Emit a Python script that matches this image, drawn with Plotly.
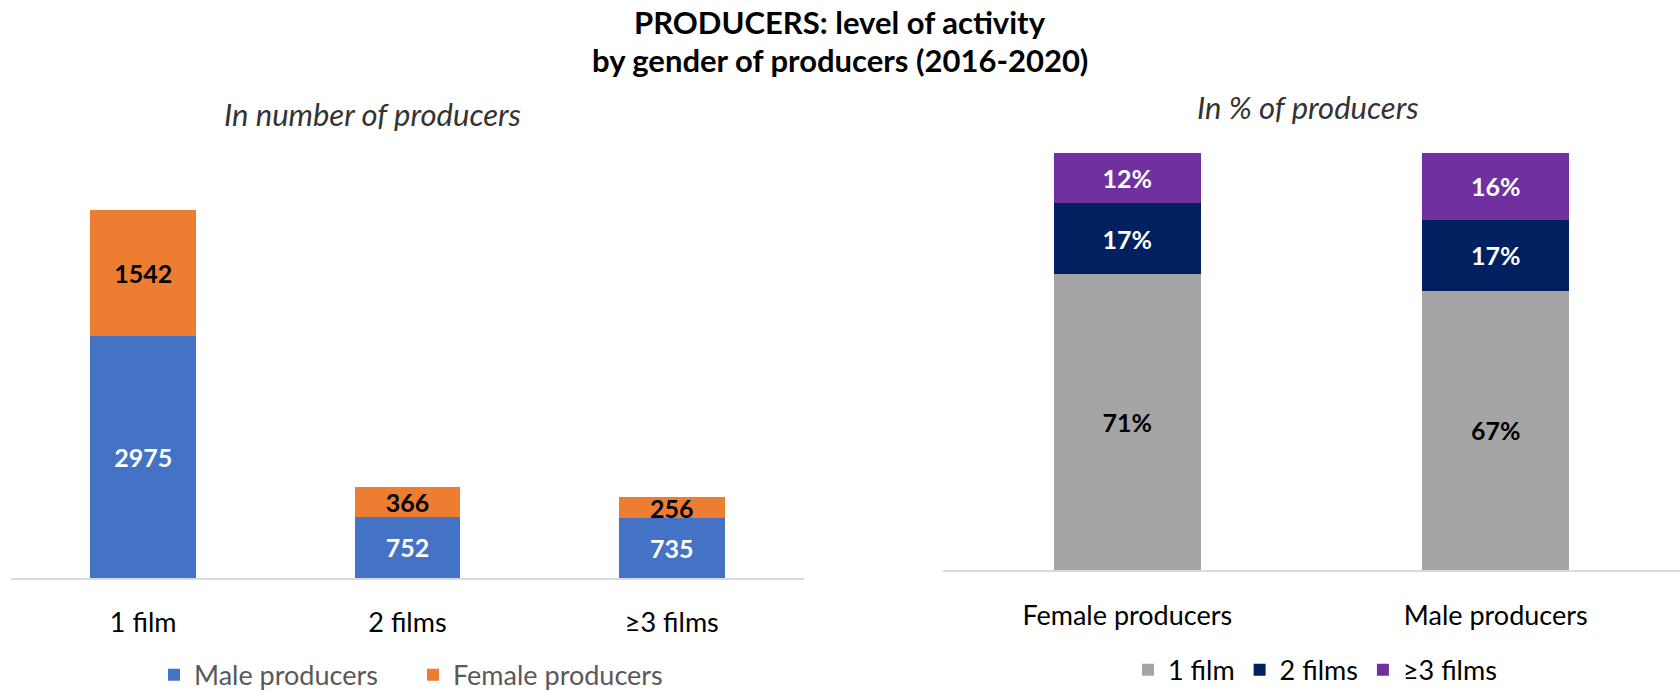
import plotly.graph_objects as go

# ---- data ----
count_categories = ["1 film", "2 films", "≥3 films"]
male_counts = [2975, 752, 735]
female_counts = [1542, 366, 256]

pct_categories = ["Female producers", "Male producers"]
pct_1film = [0.71, 0.67]
pct_2films = [0.17, 0.17]
pct_3films = [0.12, 0.16]

title_lines = ["PRODUCERS: level of activity", "by gender of producers (2016-2020)"]
subtitle_left = "In number of producers"
subtitle_right = "In % of producers"

FONT = "Lato"
W, H = 1680, 700

fig = go.Figure()

fig.add_trace(go.Bar(
    x=count_categories, y=male_counts, name="Male producers",
    marker=dict(color="#4472C4", line=dict(width=0)),
    texttemplate="<b>%{y}</b>", textposition="inside", insidetextanchor="middle",
    textfont=dict(family=FONT, size=25, color="white"), constraintext="none",
    xaxis="x", yaxis="y", legend="legend", hoverinfo="skip"))
fig.add_trace(go.Bar(
    x=count_categories, y=female_counts, name="Female producers",
    marker=dict(color="#ED7D31", line=dict(width=0)),
    texttemplate="<b>%{y}</b>", textposition="inside", insidetextanchor="middle",
    textfont=dict(family=FONT, size=25, color="black"), constraintext="none",
    xaxis="x", yaxis="y", legend="legend", hoverinfo="skip"))

fig.add_trace(go.Bar(
    x=pct_categories, y=pct_1film, name="1 film",
    marker=dict(color="#A5A5A5", line=dict(width=0)),
    texttemplate="<b>%{y:.0%}</b>", textposition="inside", insidetextanchor="middle",
    textfont=dict(family=FONT, size=25, color="black"), constraintext="none",
    xaxis="x2", yaxis="y2", legend="legend2", hoverinfo="skip"))
fig.add_trace(go.Bar(
    x=pct_categories, y=pct_2films, name="2 films",
    marker=dict(color="#002060", line=dict(width=0)),
    texttemplate="<b>%{y:.0%}</b>", textposition="inside", insidetextanchor="middle",
    textfont=dict(family=FONT, size=25, color="white"), constraintext="none",
    xaxis="x2", yaxis="y2", legend="legend2", hoverinfo="skip"))
fig.add_trace(go.Bar(
    x=pct_categories, y=pct_3films, name="≥3 films",
    marker=dict(color="#7030A0", line=dict(width=0)),
    texttemplate="<b>%{y:.0%}</b>", textposition="inside", insidetextanchor="middle",
    textfont=dict(family=FONT, size=25, color="white"), constraintext="none",
    xaxis="x2", yaxis="y2", legend="legend2", hoverinfo="skip"))

tick_font = dict(family=FONT, size=27, color="#000000")
axis_common = dict(showline=True, linecolor="#D9D9D9", linewidth=2,
                   ticks="outside", ticklen=20, tickcolor="rgba(0,0,0,0)",
                   tickfont=tick_font, showgrid=False, zeroline=False, fixedrange=True)

fig.update_layout(
    width=W, height=H,
    margin=dict(l=0, r=0, t=0, b=0),
    paper_bgcolor="white", plot_bgcolor="white",
    barmode="stack", bargap=0.6,
    font=dict(family=FONT, color="#000000"),
    xaxis=dict(domain=[11 / W, 804 / W], anchor="y", range=[-0.5, 2.5], **axis_common),
    yaxis=dict(domain=[1 - 589 / H, 1 - 174 / H], anchor="x", range=[0, 5000],
               visible=False, fixedrange=True),
    xaxis2=dict(domain=[943 / W, 1.0], anchor="y2", range=[-0.5, 1.5], **axis_common),
    yaxis2=dict(domain=[1 - 581 / H, 1 - 156 / H], anchor="x2", range=[0, 1],
                visible=False, fixedrange=True),
    legend=dict(orientation="h", x=154 / W, y=1 - 688 / H, xanchor="left", yanchor="middle",
                font=dict(family=FONT, size=27, color="#595959"), traceorder="normal",
                itemwidth=30, entrywidth=214, entrywidthmode="pixels",
                bgcolor="rgba(0,0,0,0)"),
    legend2=dict(orientation="h", x=1315 / W, y=1 - 683 / H, xanchor="center", yanchor="middle",
                 font=dict(family=FONT, size=27, color="#000000"), traceorder="normal",
                 itemwidth=30, bgcolor="rgba(0,0,0,0)"),
    uniformtext=dict(minsize=25, mode="show"),
    annotations=[
        dict(text="<b>" + title_lines[0] + "</b>", x=840 / W, y=1 - 22 / H, xref="paper", yref="paper",
             xanchor="center", yanchor="middle", showarrow=False,
             font=dict(family=FONT, size=31, color="#000000")),
        dict(text="<b>" + title_lines[1] + "</b>", x=840 / W, y=1 - 61 / H, xref="paper", yref="paper",
             xanchor="center", yanchor="middle", showarrow=False,
             font=dict(family=FONT, size=31, color="#000000")),
        dict(text="<i>" + subtitle_left + "</i>", x=372 / W, y=1 - 116 / H, xref="paper", yref="paper",
             xanchor="center", yanchor="middle", showarrow=False,
             font=dict(family=FONT, size=31, color="#333333")),
        dict(text="<i>" + subtitle_right + "</i>", x=1308 / W, y=1 - 109 / H, xref="paper", yref="paper",
             xanchor="center", yanchor="middle", showarrow=False,
             font=dict(family=FONT, size=31, color="#333333")),
    ],
)

fig.write_html("out.html", config={"displayModeBar": False},
               post_script="document.body.style.margin='0';document.body.style.overflow='hidden';")
